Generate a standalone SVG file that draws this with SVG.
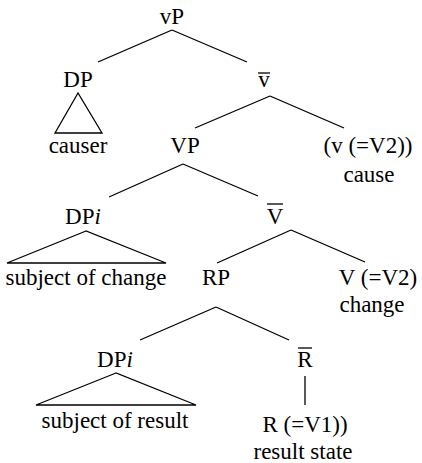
<svg xmlns="http://www.w3.org/2000/svg" width="422" height="463" viewBox="0 0 422 463">
<style>
text{font-family:"Liberation Serif","Times New Roman",serif;font-size:23px;fill:#000;text-anchor:middle}
.i{font-style:italic}
line,polygon{stroke:#000;stroke-width:1.3;fill:none}
</style>
<rect width="422" height="463" fill="#fff"/>
<g id="connectors">
<line x1="172" y1="30" x2="98" y2="62"/>
<line x1="172" y1="30" x2="247" y2="62"/>
<line x1="270" y1="96" x2="195" y2="128"/>
<line x1="270" y1="96" x2="344" y2="128"/>
<line x1="183" y1="164" x2="109" y2="197"/>
<line x1="183" y1="164" x2="258" y2="196"/>
<line x1="291" y1="230" x2="217" y2="263"/>
<line x1="291" y1="230" x2="365" y2="262"/>
<line x1="216" y1="307" x2="140" y2="340"/>
<line x1="216" y1="307" x2="289" y2="340"/>
<line x1="305" y1="376" x2="305" y2="405"/>
</g>
<g id="vP"><text x="172" y="24">vP</text></g>
<g id="DP1"><text x="78" y="87">DP</text>
<polygon points="78,93 55,133 102,133"/>
<text x="78" y="153">causer</text></g>
<g id="vbar"><text x="264" y="87">v</text><line x1="258" y1="73" x2="270" y2="73"/></g>
<g id="VP"><text x="185" y="153">VP</text></g>
<g id="v"><text x="368" y="153">(v (=V2))</text><text x="369" y="182">cause</text></g>
<g id="DPi1"><text x="83" y="224">DP<tspan class="i">i</tspan></text>
<polygon points="86,231 7,263 166,263"/>
<text x="86" y="285">subject of change</text></g>
<g id="Vbar"><text x="275" y="224">V</text><line x1="267" y1="204" x2="283" y2="204"/></g>
<g id="RP"><text x="216" y="285">RP</text></g>
<g id="V"><text x="378" y="285">V (=V2)</text><text x="372" y="312">change</text></g>
<g id="DPi2"><text x="115" y="367">DP<tspan class="i">i</tspan></text>
<polygon points="116,373 36,405 196,405"/>
<text x="115" y="428">subject of result</text></g>
<g id="Rbar"><text x="305" y="367">R</text><line x1="298" y1="348" x2="312" y2="348"/></g>
<g id="R"><text x="305" y="432">R (=V1))</text><text x="303" y="459">result state</text></g>
</svg>
